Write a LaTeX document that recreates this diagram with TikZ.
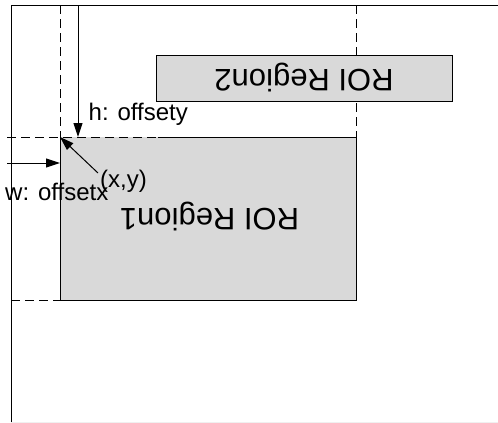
\documentclass[tikz,border=0pt]{standalone}
\usepackage{fontspec}
\setmainfont{Liberation Sans}
\usetikzlibrary{arrows.meta,calc}
\definecolor{roigray}{HTML}{D9D9D9}
\begin{document}
\begin{tikzpicture}[x=1pt,y=-1pt,
  region/.style={fill=roigray, draw=none, inner sep=0pt, outer sep=0pt, anchor=north west},
  edge/.style={draw=black, line width=1pt},
  guide/.style={draw=black, line width=1pt, dash pattern=on 9pt off 5pt},
  dim/.style={draw=black, line width=1pt, -{Triangle[length=14pt,width=9pt]}},
  lbl/.style={font=\fontsize{24}{28}\selectfont, inner sep=0pt, anchor=base west},
  title/.style={font=\fontsize{31}{36}\selectfont, inner sep=0pt, anchor=base, rotate=180}]
\useasboundingbox (0,0) rectangle (498,423);

% outer image frame
\coordinate (ftl) at (11,5);
\coordinate (ftr) at (498,5);
\coordinate (fbl) at (11,423);
\coordinate (fbb) at (11,422);
\coordinate (fbr) at (498,422);
\draw[edge] (ftr) -- (ftl) -- (fbl);
\draw[gray!12, line width=0.8pt] (fbb) -- (fbr);

% first region (fill only; its border is drawn below)
\node[region, minimum width=296pt, minimum height=163pt] (roi1) at (60,137) {};

% dashed guides
\coordinate (g1t) at (60,5);
\coordinate (g2t) at (356,5);
\coordinate (g3l) at (7,137);
\coordinate (g3r) at (158,137);
\coordinate (g4l) at (11,300);
\draw[guide] (g1t) -- (roi1.north west);
\draw[guide] (g2t) -- (roi1.north east);
\draw[guide] (g3l) -- (g3r);
\draw[guide] (g4l) -- (roi1.south west);

% border of the first region
\draw[edge] (g3r) -- (roi1.north east) -- (roi1.south east) -- (roi1.south west) -- (roi1.north west);

% second region
\node[region, draw=black, line width=1pt, minimum width=296pt, minimum height=46pt] (roi2) at (156,55) {};

% offset arrows
\coordinate (hs) at (78,5);
\coordinate (ws) at (7,163);
\coordinate (xs) at (98,173);
\draw[dim] (hs) -- (hs |- roi1.north);
\draw[dim] (ws) -- (ws -| roi1.west);
\draw[dim] (xs) -- (roi1.north west);

% labels
\node[lbl] (hlab) at (88.5,120) {h: offsety};
\node[lbl] (wlab) at (5,200) {w: offsetx};
\node[lbl] (xy) at (100,187) {(x,y)};
\node[title] (t2) at (304,69) {ROI Region2};
\node[title] (t1) at (209.5,208.5) {ROI Region1};
\end{tikzpicture}
\end{document}
